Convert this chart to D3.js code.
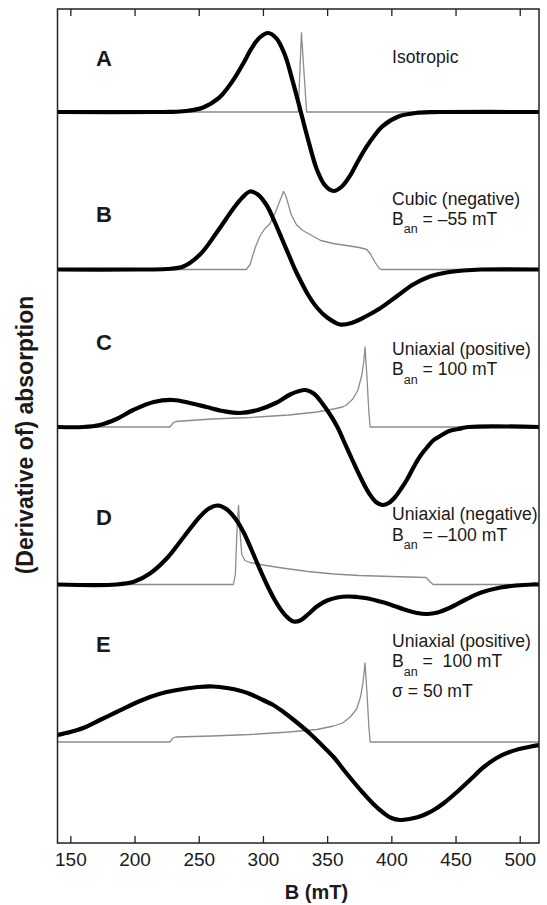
<!DOCTYPE html>
<html>
<head>
<meta charset="utf-8">
<script src="https://cdn.jsdelivr.net/npm/d3@7"></script>
<style>
  html, body { margin: 0; padding: 0; background: #fff; }
  svg { display: block; }
  text { font-family: "Liberation Sans", Arial, Helvetica, sans-serif; fill: #1a1a1a; }
</style>
</head>
<body>
<svg id="chart" width="547" height="905"></svg>
<script>
// ---------------- DATA ----------------
const panels = ["A", "B", "C", "D", "E"];
const xTicks = [150, 200, 250, 300, 350, 400, 450, 500];
const xDomain = [140, 515];

const annotations = {
  A: [["Isotropic"]],
  B: [["Cubic (negative)"], ["B", "an", " = \u201355 mT"]],
  C: [["Uniaxial (positive)"], ["B", "an", " = 100 mT"]],
  D: [["Uniaxial (negative)"], ["B", "an", " = \u2013100 mT"]],
  E: [["Uniaxial (positive)"], ["B", "an", " = \u00a0100 mT"], ["\u03c3 = 50 mT"]]
};

// derivative of absorption (thick black), [B (mT), intensity (a.u.)]
const derivA = [[140,0],[220,0],[227,0.1],[240,1.0],[253,4.3],[266,14.3],[272,23.3],[278.5,35.2],[285,49.3],[291,63.4],[297.5,74.5],[304,79],[310.5,73.7],[317,57.5],[323,31.6],[329.5,0],[336,-31.6],[342,-57.5],[348.5,-73.7],[355,-79],[361.5,-74.5],[368,-63.4],[374,-49.3],[380.5,-35.2],[387,-23.3],[393,-14.3],[406,-4.3],[419,-1.0],[432,-0.1],[440,0],[515,0]];
const derivB = [[140,0],[200,0],[225,0.5],[238,3],[251,15],[264,37],[277,61],[284,72],[290,78],[296,75],[303,64],[309,48],[315,30],[320,15],[325,0],[330,-13],[335,-25],[342,-38],[350,-48],[360,-55],[370,-53],[380,-47],[391,-39],[404,-27],[417,-15],[430,-7],[443,-3],[456,-1],[470,0],[515,0]];
const derivC = [[140,0],[160,0],[173,2],[186,8],[199,17],[215,25],[230,27],[243,24],[256,20],[269,16],[282,14],[296,17],[310,24],[322,33],[333,37],[340,33],[346,24],[352,13],[358,0],[364,-17],[370,-34],[377,-53],[383,-67],[388,-75],[393,-78],[398,-76],[403,-70],[408,-61],[412,-53],[417,-41],[422,-30],[428,-20],[433,-13],[438,-9],[445,-4],[452,-2],[460,0],[515,0]];
const derivD = [[140,0],[186,0],[200,3],[212,11],[225,26],[238,47],[251,68],[258,76],[265,79],[272,75],[279,65],[285,52],[291,35],[297,17],[303,0],[309,-15],[315,-27],[320,-34],[324,-37],[329,-36],[335,-30],[342,-22],[350,-16],[358,-13],[366,-12],[373,-12.5],[382,-14],[391,-17],[399,-20],[410,-25],[420,-28.5],[428,-29.5],[436,-28],[446,-23],[458,-15],[470,-8],[485,-3],[497,-1],[510,0],[515,0]];
const derivE = [[140,7],[150,10],[160,14],[173,22],[186,30],[199,38],[212,45],[225,50],[238,53],[250,55],[261,55.5],[272,54],[283,51],[290,48],[300,42],[308,37],[316,30],[326,20],[337,8],[345,-2],[355,-15],[363,-28],[370,-39],[378,-51],[386,-62],[394,-71],[400,-76],[407,-78],[414,-77],[421,-75],[427,-72],[433,-68],[441,-61],[452,-49],[462,-37],[472,-25],[482,-16],[492,-10],[503,-6],[515,-3]];

// absorption (thin grey), [B (mT), intensity (a.u.)]
const absA = [[140,0],[327.5,0],[330,79],[334,0],[515,0]];
const absB = [[140,0],[287,0],[290,5],[294,22],[297.5,33],[301,40],[305.5,46],[310,58],[316,78],[318,73],[322,55],[326,45],[331,39],[336.6,35],[345,29],[354.6,26],[365,24],[375,22],[381,20],[384,15],[387,8],[390,2],[392,0],[515,0]];
const absC = [[140,0],[227.5,0],[230,4],[232,5.5],[260,8],[290,9.5],[320,12],[342,15],[355,18],[362,20],[365,22],[370,28],[374,37],[377,52],[378.5,65],[379.5,80],[381,50],[382.5,15],[383.5,0],[515,0]];
const absD = [[140,0],[277,0],[278.5,10],[280,60],[281,79],[282,55],[283.5,30],[286,24],[290,22],[300,19.5],[315,16.5],[335,13],[355,10.5],[375,9],[400,8],[427,7],[430,3],[432.5,0],[515,0]];
const absE = [[140,0],[227.5,0],[230,4],[232,5],[260,6],[290,7.5],[320,10],[342,12.5],[355,16],[362,19],[368,25],[373,33],[376,45],[378,60],[379.5,79],[381,50],[382.5,15],[383.5,0],[515,0]];

const derivs = { A: derivA, B: derivB, C: derivC, D: derivD, E: derivE };
const absorps = { A: absA, B: absB, C: absC, D: absD, E: absE };

// ---------------- LAYOUT ----------------
const svg = d3.select("#chart");
const plot = { left: 57.5, right: 539, top: 9, bottom: 843 };

const x = d3.scaleLinear().domain(xDomain).range([plot.left, plot.right]);
const baseline = d3.scalePoint().domain(panels).range([112, 742]);

svg.append("defs").append("clipPath").attr("id", "clip")
  .append("rect").attr("x", plot.left).attr("y", plot.top)
  .attr("width", plot.right - plot.left).attr("height", plot.bottom - plot.top);

const g = svg.append("g").attr("clip-path", "url(#clip)");

panels.forEach(p => {
  const b = baseline(p);
  const y = d3.scaleLinear().domain([-100, 100]).range([b + 100, b - 100]);
  const grey = d3.line().x(d => x(d[0])).y(d => y(d[1])).curve(d3.curveLinear);
  const black = d3.line().x(d => x(d[0])).y(d => y(d[1])).curve(d3.curveCatmullRom.alpha(0.5));

  g.append("path").datum(absorps[p])
    .attr("d", grey).attr("fill", "none")
    .attr("stroke", "#8c8c8c").attr("stroke-width", 1.3).attr("stroke-linejoin", "round");

  g.append("path").datum(derivs[p])
    .attr("d", black).attr("fill", "none")
    .attr("stroke", "#000").attr("stroke-width", 4.2).attr("stroke-linejoin", "round");
});

// frame
svg.append("rect")
  .attr("x", plot.left).attr("y", plot.top)
  .attr("width", plot.right - plot.left).attr("height", plot.bottom - plot.top)
  .attr("fill", "none").attr("stroke", "#222").attr("stroke-width", 1.5);

// axes (ticks inward)
const bottomAxis = d3.axisBottom(x).tickValues(xTicks).tickSizeInner(-7).tickSizeOuter(0).tickPadding(10);
const topAxis = d3.axisTop(x).tickValues(xTicks).tickSizeInner(-7).tickSizeOuter(0).tickFormat("");

const bx = svg.append("g").attr("transform", `translate(0,${plot.bottom})`).call(bottomAxis);
const tx = svg.append("g").attr("transform", `translate(0,${plot.top})`).call(topAxis);
[bx, tx].forEach(a => {
  a.select(".domain").remove();
  a.selectAll(".tick line").attr("stroke", "#222").attr("stroke-width", 1.3);
});
bx.selectAll(".tick text")
  .attr("font-size", 19).attr("fill", "#1a1a1a")
  .style("font-family", '"Liberation Sans", Arial, Helvetica, sans-serif');

// axis titles
svg.append("text")
  .attr("x", 316.5).attr("y", 899)
  .attr("text-anchor", "middle")
  .attr("font-size", 20).attr("font-weight", "bold")
  .text("B (mT)");

svg.append("text")
  .attr("transform", "translate(33,435) rotate(-90)")
  .attr("text-anchor", "middle")
  .attr("font-size", 23).attr("font-weight", "bold")
  .text("(Derivative of) absorption");

// panel letters
const letterY = { A: 66, B: 222, C: 350, D: 525, E: 652 };
panels.forEach(p => {
  svg.append("text")
    .attr("x", 96).attr("y", letterY[p])
    .attr("font-size", 22).attr("font-weight", "bold")
    .text(p);
});

// annotations
const annotY = { A: [63], B: [204.5, 224.5], C: [355, 375], D: [520, 540.5], E: [647, 667, 696.5] };
panels.forEach(p => {
  annotations[p].forEach((line, i) => {
    const t = svg.append("text")
      .attr("x", 392).attr("y", annotY[p][i])
      .attr("font-size", 17.6);
    if (line.length === 1) {
      t.text(line[0]);
    } else {
      t.append("tspan").text(line[0]);
      t.append("tspan").attr("font-size", 12.5).attr("dy", 8.5).text(line[1]);
      t.append("tspan").attr("dy", -8.5).text(line[2]);
    }
  });
});
</script>
</body>
</html>
